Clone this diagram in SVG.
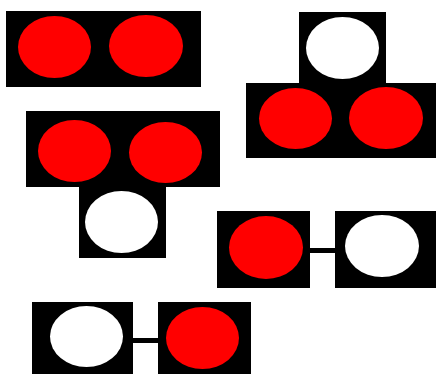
<svg xmlns="http://www.w3.org/2000/svg" width="436" height="374" viewBox="0 0 436 374">
<style>
.box{fill:#000;}
.r{fill:#ff0000;}
.w{fill:#fff;}
.c{stroke:#000;stroke-width:5;fill:none;}
</style>
<rect width="436" height="374" fill="#fff"/>
<g id="connectors">
<line class="c" x1="309" y1="250.5" x2="336" y2="250.5"/>
<line class="c" x1="132" y1="340.5" x2="159" y2="340.5"/>
</g>
<g id="node1">
<rect class="box" x="6" y="11" width="195" height="76"/>
<ellipse class="r" cx="54.5" cy="47" rx="36.5" ry="31"/>
<ellipse class="r" cx="146" cy="46" rx="37" ry="31"/>
</g>
<g id="node2">
<rect class="box" x="299" y="12" width="87" height="72"/>
<rect class="box" x="246" y="83" width="190" height="75"/>
<ellipse class="w" cx="342.5" cy="48" rx="36.5" ry="31"/>
<ellipse class="r" cx="295.5" cy="118.5" rx="36.5" ry="30.5"/>
<ellipse class="r" cx="386" cy="118" rx="37" ry="31"/>
</g>
<g id="node3">
<rect class="box" x="26" y="111" width="194" height="76"/>
<rect class="box" x="79" y="186" width="87" height="72"/>
<ellipse class="r" cx="74.5" cy="151" rx="36.5" ry="31"/>
<ellipse class="r" cx="165.5" cy="152.5" rx="36.5" ry="30.5"/>
<ellipse class="w" cx="121.5" cy="222" rx="36.5" ry="31"/>
</g>
<g id="node4">
<rect class="box" x="217" y="211" width="93" height="77"/>
<ellipse class="r" cx="266" cy="247.5" rx="37" ry="31.5"/>
</g>
<g id="node5">
<rect class="box" x="335" y="211" width="101" height="77"/>
<ellipse class="w" cx="382" cy="246" rx="37" ry="31"/>
</g>
<g id="node6">
<rect class="box" x="32" y="302" width="101" height="72"/>
<ellipse class="w" cx="86.5" cy="336.5" rx="36.5" ry="30.5"/>
</g>
<g id="node7">
<rect class="box" x="158" y="302" width="93" height="72"/>
<ellipse class="r" cx="202.5" cy="338" rx="36.5" ry="31"/>
</g>
</svg>
